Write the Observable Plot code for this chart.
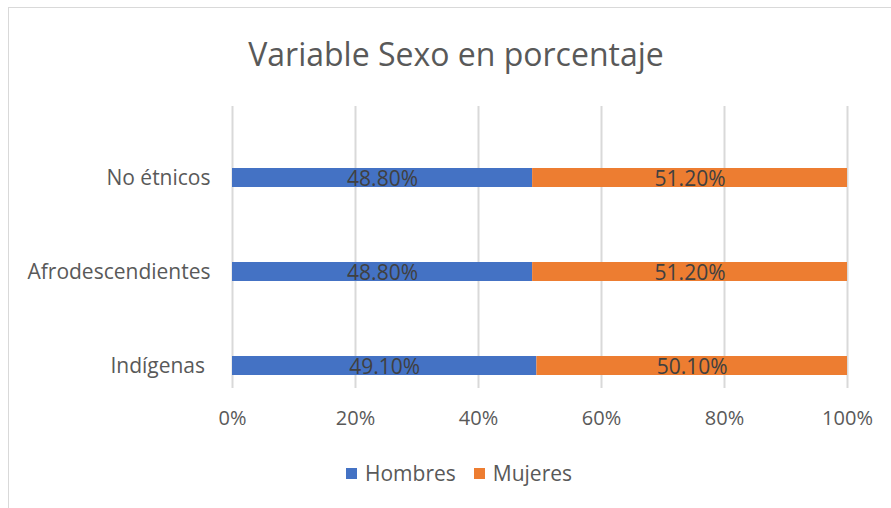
<!DOCTYPE html>
<html>
<head>
<meta charset="utf-8">
<script src="https://cdn.jsdelivr.net/npm/d3@7"></script>
<script src="https://cdn.jsdelivr.net/npm/@observablehq/plot@0.6"></script>
<style>
  html, body { margin: 0; padding: 0; background: #fff; overflow: hidden; }
  #wrap { position: relative; width: 891px; height: 508px; overflow: hidden; font-family: "Open Sans", sans-serif; }
  #frame { position: absolute; left: 8px; top: 7px; width: 900px; height: 520px; border: 1px solid #d9d9d9; box-sizing: border-box; }
  #title { position: absolute; left: 0; width: 912px; top: 30px; text-align: center; font-size: 32px; color: #595959; line-height: 48px; }
  #chart { position: absolute; left: 0; top: 90px; }
  #legend { position: absolute; top: 461px; left: 346px; display: flex; align-items: center; font-size: 21px; color: #595959; line-height: 24px; }
  .sw { width: 11px; height: 11px; display: inline-block; margin-right: 8px; }
  .item { display: flex; align-items: center; margin-right: 18px; }
</style>
</head>
<body>
<div id="wrap">
  <div id="frame"></div>
  <div id="title">Variable Sexo en porcentaje</div>
  <div id="chart"></div>
  <div id="legend"></div>
</div>
<script>
const categories = ["No étnicos", "Afrodescendientes", "Indígenas"];
const series = ["Hombres", "Mujeres"];
const hombres = [48.8, 48.8, 49.1];
const mujeres = [51.2, 51.2, 50.1];
const xTicks = [0, 0.2, 0.4, 0.6, 0.8, 1];
const colors = ["#4472C4", "#ED7D31"];

const data = [];
categories.forEach((c, i) => {
  data.push({cat: c, sexo: series[0], value: hombres[i]});
  data.push({cat: c, sexo: series[1], value: mujeres[i]});
});

const plot = Plot.plot({
  width: 891,
  height: 350,
  marginLeft: 232,
  marginRight: 44,
  marginTop: 16,
  marginBottom: 52,
  style: {fontFamily: "Open Sans, sans-serif", background: "transparent", overflow: "visible"},
  x: {domain: [0, 1], label: null},
  y: {domain: categories, range: [40, 322], paddingInner: 0.798, paddingOuter: 0.399, label: null},
  color: {domain: series, range: colors},
  marks: [
    Plot.gridX(xTicks, {stroke: "#d9d9d9", strokeOpacity: 1, strokeWidth: 2}),
    Plot.barX(data, Plot.stackX({x: "value", y: "cat", fill: "sexo", offset: "normalize"})),
    Plot.text(data, Plot.stackX({x: "value", y: "cat", z: "sexo", offset: "normalize",
      text: d => d.value.toFixed(2) + "%", fill: "#404040", fontSize: 21, dy: 1})),
    Plot.axisX(xTicks, {tickSize: 0, tickPadding: 22, tickFormat: d => Math.round(d * 100) + "%",
      fontSize: 20, fill: "#595959", anchor: "bottom", label: null}),
    Plot.axisY({tickSize: 0, tickPadding: 22, fontSize: 21, fill: "#595959", label: null,
      tickFormat: d => d === "Indígenas" ? d + "\u00a0" : d})
  ]
});
document.getElementById("chart").appendChild(plot);

const legend = document.getElementById("legend");
series.forEach((s, i) => {
  const item = document.createElement("div");
  item.className = "item";
  const sw = document.createElement("span");
  sw.className = "sw";
  sw.style.background = colors[i];
  item.appendChild(sw);
  item.appendChild(document.createTextNode(s));
  legend.appendChild(item);
});
</script>
</body>
</html>
